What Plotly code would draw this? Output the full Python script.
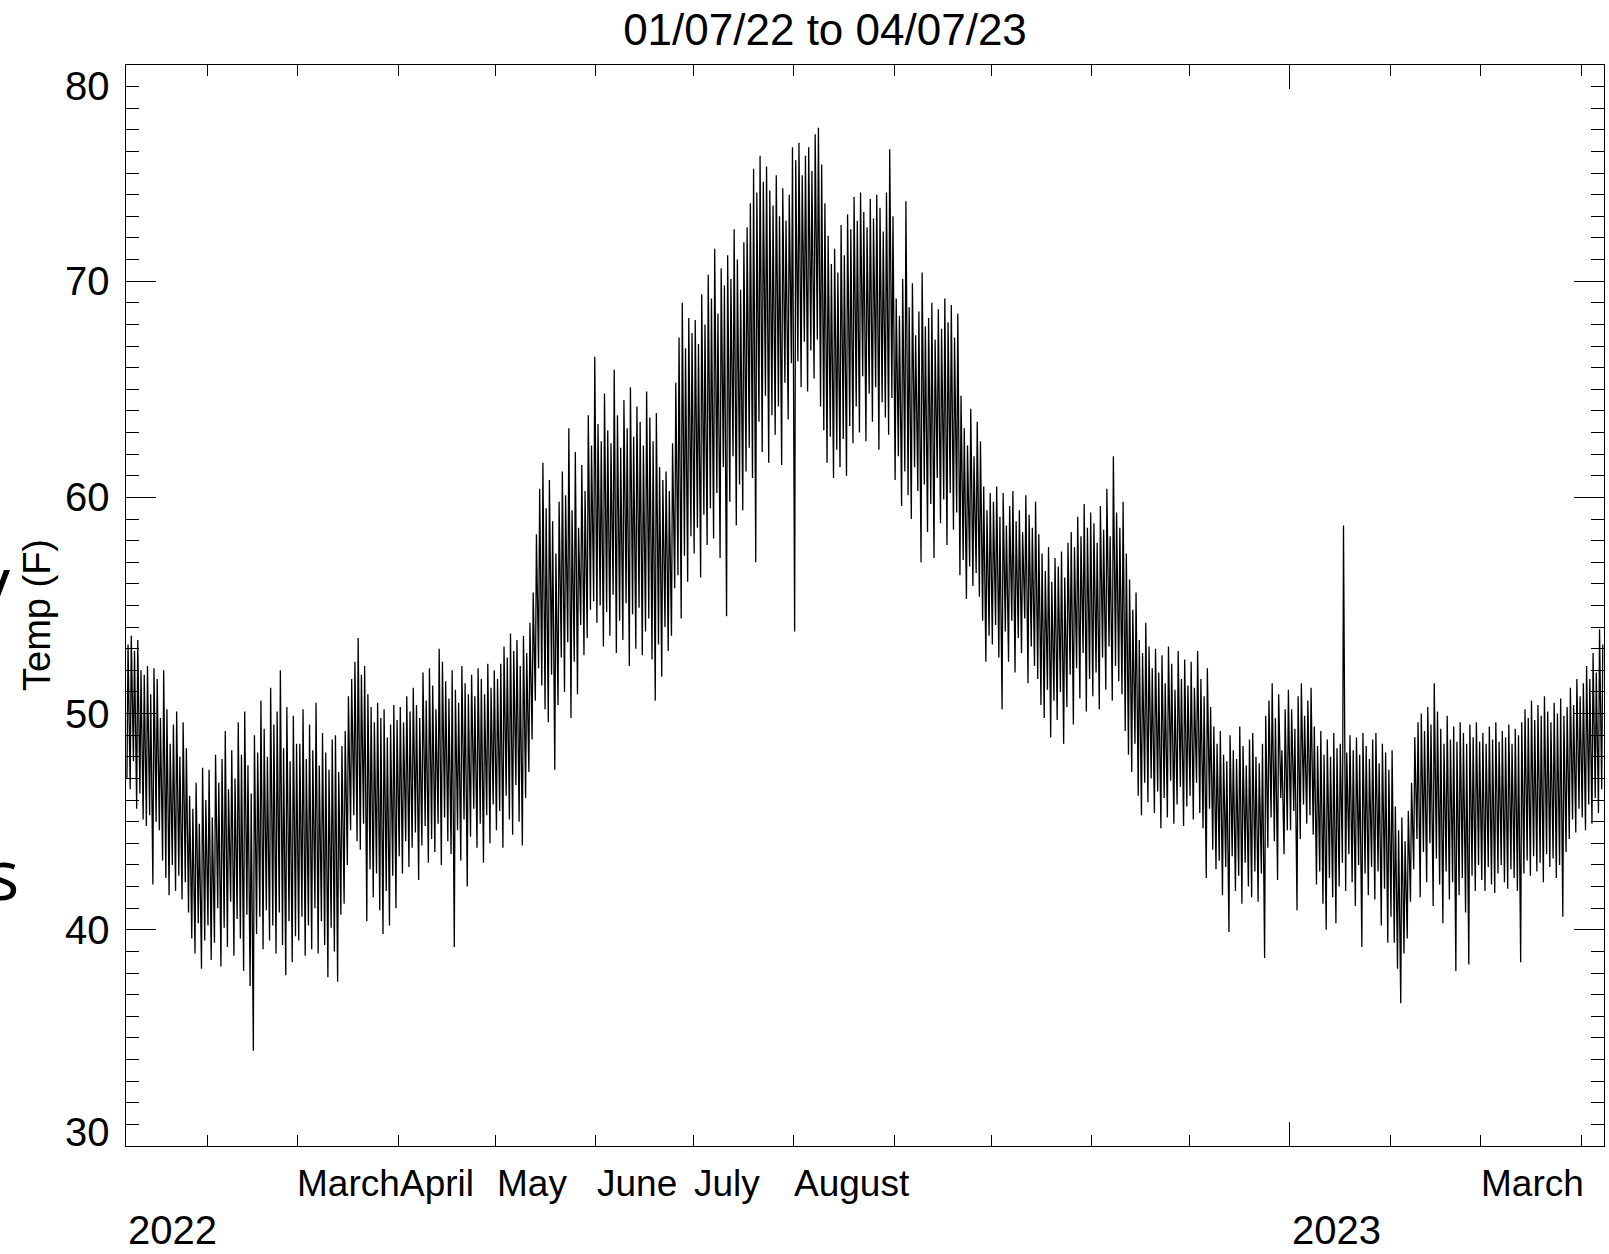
import pandas as pd
import plotly.graph_objects as go

# Daily high / low temperatures (F), 2022-01-07 .. 2023-04-07
hi_jan22 = [53.2, 53.6, 52.9, 53.4, 52.0, 51.8, 52.2, 50.9, 52.1, 51.6, 49.8, 52.0, 50.2, 48.6, 49.5, 50.1, 48.0, 49.6, 48.4, 46.2, 45.6, 46.8, 44.9, 47.5, 46.0]
lo_jan22 = [47.0, 46.5, 47.8, 45.6, 46.3, 45.1, 44.8, 45.3, 42.1, 45.0, 44.6, 43.2, 42.4, 41.6, 43.0, 41.8, 42.5, 41.4, 42.2, 40.8, 39.6, 38.9, 40.3, 38.2, 39.5]
hi_feb22 = [47.4, 45.2, 48.1, 46.8, 47.9, 49.2, 46.5, 48.3, 47.0, 49.6, 48.1, 50.1, 47.6, 46.3, 49.0, 48.2, 50.6, 49.3, 48.0, 51.2, 49.5, 50.1, 52.0, 48.4, 50.3, 47.8, 49.9, 48.6]
lo_feb22 = [40.2, 38.6, 39.4, 41.0, 38.3, 40.1, 39.2, 41.3, 38.8, 40.5, 39.6, 38.1, 40.7, 37.4, 34.4, 39.8, 40.6, 39.1, 40.9, 39.5, 40.2, 38.9, 40.8, 39.3, 37.9, 40.4, 38.5, 39.7]
hi_mar22 = [48.6, 50.2, 47.9, 49.5, 48.3, 50.5, 47.6, 49.1, 48.2, 47.4, 48.8, 49.0, 47.3, 48.5, 49.2, 50.8, 51.6, 52.4, 53.5, 51.8, 52.2, 50.9, 50.3, 49.6, 50.5, 49.8, 50.2, 48.9, 49.5, 50.4, 49.7]
lo_mar22 = [39.5, 40.6, 38.8, 40.2, 39.1, 41.0, 38.9, 40.4, 39.3, 37.8, 40.1, 39.0, 37.6, 40.7, 41.2, 43.0, 44.6, 45.3, 44.1, 43.7, 44.9, 40.4, 42.8, 41.5, 42.6, 40.9, 39.8, 41.8, 40.2, 42.5, 41.0]
hi_apr22 = [50.3, 49.6, 50.8, 50.1, 51.2, 50.4, 49.8, 51.9, 50.6, 52.1, 51.3, 50.2, 53.0, 52.4, 51.5, 50.7, 52.0, 51.1, 50.5, 52.2, 51.4, 50.9, 51.8, 50.8, 52.1, 51.6, 50.9, 52.3, 51.2, 52.0]
lo_apr22 = [43.4, 42.6, 44.1, 42.9, 43.8, 44.5, 42.3, 43.9, 44.8, 43.1, 44.2, 43.6, 44.9, 43.0, 45.2, 44.1, 43.5, 39.2, 44.6, 43.2, 45.1, 42.0, 44.3, 45.6, 43.8, 44.9, 43.1, 45.3, 44.0, 45.8]
hi_may22 = [51.6, 52.3, 53.1, 52.6, 53.7, 52.9, 53.4, 52.2, 53.6, 52.8, 54.2, 55.6, 58.3, 60.4, 61.6, 59.5, 60.8, 58.9, 57.4, 59.8, 61.2, 60.1, 63.2, 59.4, 62.1, 58.6, 61.5, 60.3, 63.8, 62.4, 66.5]
lo_may22 = [44.6, 45.5, 43.8, 46.2, 45.1, 44.4, 46.7, 45.0, 43.9, 46.1, 47.3, 48.8, 50.6, 52.1, 51.3, 50.2, 49.6, 51.8, 47.4, 50.4, 52.6, 51.0, 53.3, 49.8, 52.4, 50.9, 54.1, 52.7, 53.5, 54.8, 55.2]
hi_jun22 = [63.4, 62.6, 64.8, 63.1, 62.5, 65.9, 63.8, 62.3, 64.5, 63.2, 65.1, 62.8, 64.2, 63.5, 62.4, 64.9, 63.7, 62.6, 63.9, 61.4, 60.8, 61.2, 60.3, 62.5, 65.3, 67.4, 69.0, 66.9, 68.3, 67.6]
lo_jun22 = [54.2, 55.0, 53.1, 54.7, 53.6, 55.5, 52.8, 54.3, 53.4, 55.1, 52.2, 54.6, 53.0, 54.9, 52.7, 53.8, 54.4, 52.5, 50.6, 53.2, 51.7, 54.0, 52.9, 53.6, 55.8, 56.4, 54.4, 57.3, 56.1, 58.2]
hi_jul22 = [68.2, 67.1, 69.4, 68.0, 70.3, 69.2, 71.5, 68.5, 70.6, 69.8, 71.2, 70.1, 72.4, 71.0, 69.6, 71.8, 72.5, 73.6, 75.2, 74.1, 75.8, 74.6, 75.3, 74.2, 73.5, 74.9, 73.0, 74.3, 72.8, 74.0, 76.2]
lo_jul22 = [57.4, 58.6, 56.3, 59.2, 57.8, 59.5, 58.1, 60.2, 57.2, 61.4, 54.5, 59.8, 61.9, 58.7, 60.6, 59.4, 61.2, 62.3, 60.9, 57.0, 63.5, 62.1, 64.7, 61.6, 63.8, 62.9, 64.2, 61.5, 65.3, 63.6, 66.2]
hi_aug22 = [75.6, 76.4, 74.9, 75.8, 76.2, 75.1, 76.8, 77.1, 75.4, 73.6, 72.1, 70.8, 71.5, 70.4, 72.6, 71.2, 73.1, 72.4, 73.9, 72.8, 74.1, 73.2, 72.5, 73.8, 72.9, 74.0, 73.4, 72.3, 74.1, 76.1, 73.0]
lo_aug22 = [53.8, 66.3, 65.1, 67.2, 64.9, 66.8, 65.5, 67.3, 64.2, 63.1, 61.6, 62.8, 60.9, 62.2, 61.4, 62.7, 61.0, 63.3, 62.5, 64.2, 63.0, 65.6, 62.6, 64.8, 63.5, 65.1, 62.2, 64.4, 63.7, 62.9, 64.6]
hi_sep22 = [69.2, 68.4, 70.1, 73.7, 68.8, 69.9, 67.5, 68.6, 70.4, 67.9, 68.3, 69.0, 67.3, 68.7, 67.8, 69.2, 68.1, 68.9, 67.4, 68.5, 64.7, 63.2, 62.4, 64.1, 61.9, 63.5, 62.6, 60.5, 59.4, 60.2]
lo_sep22 = [60.8, 61.9, 59.6, 61.2, 60.1, 59.0, 61.4, 60.3, 57.0, 60.6, 58.4, 59.7, 57.2, 60.9, 58.8, 59.9, 57.8, 60.2, 58.5, 59.3, 56.4, 57.1, 55.3, 56.8, 55.9, 56.5, 55.4, 54.3, 52.4, 53.6]
hi_oct22 = [59.8, 60.5, 59.1, 60.2, 58.7, 59.6, 60.3, 58.9, 59.4, 58.4, 60.1, 59.2, 58.6, 59.8, 58.3, 57.4, 56.6, 57.7, 56.1, 57.2, 56.8, 57.5, 56.3, 57.9, 58.4, 57.7, 59.1, 58.2, 59.7, 58.6, 59.3]
lo_oct22 = [53.2, 54.1, 52.6, 50.2, 53.8, 52.4, 54.3, 51.9, 53.5, 52.8, 54.4, 51.4, 53.1, 52.2, 51.6, 50.4, 49.8, 51.1, 48.9, 50.6, 49.7, 51.0, 48.6, 50.3, 51.8, 49.5, 52.1, 50.7, 52.8, 50.1, 51.6]
hi_nov22 = [58.8, 57.9, 59.6, 58.5, 60.4, 58.2, 61.9, 59.3, 58.6, 59.8, 57.4, 56.2, 54.8, 55.6, 53.4, 52.8, 54.2, 53.1, 52.1, 53.0, 51.9, 52.7, 51.4, 53.1, 52.3, 51.1, 52.9, 51.6, 52.5, 51.3]
lo_nov22 = [50.8, 51.9, 50.2, 52.6, 51.1, 53.1, 50.6, 52.2, 51.5, 50.9, 49.2, 48.1, 47.3, 48.6, 46.2, 45.3, 46.8, 45.9, 47.0, 45.4, 46.4, 44.7, 46.1, 45.2, 46.9, 44.9, 45.8, 46.6, 44.8, 45.7]
hi_dec22 = [52.4, 51.2, 52.9, 51.6, 50.8, 52.1, 50.3, 49.4, 48.6, 49.2, 48.1, 47.8, 49.0, 48.3, 47.9, 49.4, 48.5, 47.6, 48.8, 49.1, 48.0, 47.7, 48.6, 49.9, 50.6, 51.4, 49.8, 50.9, 48.3, 50.2, 51.1]
lo_dec22 = [46.2, 45.1, 46.8, 45.4, 44.7, 42.4, 45.6, 43.7, 42.8, 43.2, 41.6, 42.9, 39.9, 43.4, 41.8, 42.5, 41.2, 43.1, 42.0, 41.5, 42.7, 41.3, 42.6, 38.7, 43.8, 45.2, 44.1, 42.3, 46.1, 43.5, 44.6]
hi_jan23 = [50.2, 49.3, 50.8, 51.4, 49.9, 50.6, 51.2, 49.4, 48.5, 49.2, 48.1, 48.8, 48.0, 49.1, 48.4, 48.6, 58.7, 48.2, 49.0, 48.3, 48.9, 48.1, 49.1, 48.5, 47.9, 48.8, 49.1, 47.7, 48.6, 48.2, 47.4]
lo_jan23 = [44.6, 45.5, 40.9, 44.2, 45.8, 44.9, 45.3, 44.4, 42.1, 42.7, 41.2, 40.0, 42.4, 41.5, 40.3, 42.0, 43.1, 41.8, 43.5, 42.2, 41.1, 43.0, 39.2, 42.6, 41.6, 42.9, 41.4, 42.7, 40.2, 41.9, 39.4]
hi_feb23 = [48.3, 45.7, 44.6, 45.2, 44.1, 45.5, 46.8, 48.9, 49.6, 50.0, 49.2, 50.3, 49.5, 51.4, 50.1, 49.3, 48.6, 49.9, 48.8, 49.4, 48.7, 49.6, 49.1, 48.6, 49.5, 48.9, 49.6, 48.7]
lo_feb23 = [40.6, 39.4, 38.2, 36.6, 38.9, 39.6, 41.3, 42.8, 44.2, 41.5, 43.6, 42.2, 44.0, 41.1, 43.3, 42.1, 40.3, 42.7, 41.4, 42.2, 38.1, 41.6, 42.4, 40.8, 38.4, 42.5, 41.8, 43.0]
hi_mar23 = [49.1, 48.6, 49.4, 48.8, 49.6, 48.7, 49.2, 48.9, 49.5, 48.6, 49.3, 49.0, 49.6, 50.2, 49.8, 50.6, 49.7, 50.4, 49.9, 50.8, 50.1, 49.6, 50.5, 50.0, 50.7, 49.9, 50.3, 51.2, 50.4, 51.6, 50.8]
lo_mar23 = [42.3, 41.8, 42.9, 42.1, 41.7, 42.6, 43.0, 42.2, 41.9, 42.8, 42.4, 41.8, 38.5, 42.6, 43.2, 42.5, 43.4, 42.7, 43.1, 42.2, 43.5, 42.9, 43.3, 42.4, 43.0, 40.6, 43.6, 44.2, 45.1, 44.5, 45.6]
hi_apr23 = [51.4, 52.2, 51.6, 52.8, 51.9, 53.9, 53.2]
lo_apr23 = [45.2, 44.6, 45.8, 44.9, 46.1, 45.4, 46.5]

start_date = "2022-01-07"
end_date = "2023-04-08"
month_label_text = ["March", "April", "May", "June", "July", "August", "March"]
month_label_dates = ["2022-03-16 19:00", "2022-04-13 00:00", "2022-05-12 07:00", "2022-06-13 17:00",
                     "2022-07-11 10:00", "2022-08-19 00:00", "2023-03-16 19:00"]
year_labels = ["2022", "2023"]
year_label_dates = ["2022-01-07", "2023-01-01"]
y_tick_values = [80, 70, 60, 50, 40, 30]

highs = (hi_jan22 + hi_feb22 + hi_mar22 + hi_apr22 + hi_may22 + hi_jun22 + hi_jul22 + hi_aug22 +
         hi_sep22 + hi_oct22 + hi_nov22 + hi_dec22 + hi_jan23 + hi_feb23 + hi_mar23 + hi_apr23)
lows = (lo_jan22 + lo_feb22 + lo_mar22 + lo_apr22 + lo_may22 + lo_jun22 + lo_jul22 + lo_aug22 +
        lo_sep22 + lo_oct22 + lo_nov22 + lo_dec22 + lo_jan23 + lo_feb23 + lo_mar23 + lo_apr23)

days = pd.date_range(start_date, periods=len(highs), freq="D")
xs, ys = [], []
for d, lo, hi in zip(days, lows, highs):
    xs.append(d + pd.Timedelta(hours=7)); ys.append(lo)
    xs.append(d + pd.Timedelta(hours=15)); ys.append(hi)

FONT = "Liberation Sans, Arial, sans-serif"

fig = go.Figure()
fig.add_trace(go.Scatter(x=xs, y=ys, mode="lines",
                         line=dict(color="black", width=1.3, simplify=False),
                         showlegend=False, hoverinfo="skip"))

month_starts = pd.date_range("2022-02-01", "2023-04-01", freq="MS")
minor_vals = [m for m in month_starts if m != pd.Timestamp("2023-01-01")]

fig.update_layout(
    width=1609, height=1254,
    margin=dict(l=126, r=5, t=65, b=108),
    paper_bgcolor="white", plot_bgcolor="white",
    title=dict(text="01/07/22 to 04/07/23", x=825 / 1609, xanchor="center",
               y=1 - 30 / 1254, yanchor="middle",
               font=dict(family=FONT, size=44, color="black")),
    xaxis=dict(type="date", range=[start_date, end_date],
               showgrid=False, zeroline=False,
               showline=True, linecolor="black", linewidth=1, mirror="ticks",
               ticks="inside", ticklen=24, tickcolor="black", tickwidth=1,
               tickmode="array", tickvals=["2023-01-01"], showticklabels=False,
               minor=dict(tickmode="array", tickvals=minor_vals, ticks="inside",
                          ticklen=11, tickcolor="black", tickwidth=1, showgrid=False)),
    yaxis=dict(range=[30, 80], showgrid=False, zeroline=False,
               showline=True, linecolor="black", linewidth=1, mirror="ticks",
               ticks="inside", ticklen=30, tickcolor="black", tickwidth=1,
               tickmode="array", tickvals=y_tick_values, showticklabels=False,
               minor=dict(dtick=1, tick0=30, ticks="inside", ticklen=13,
                          tickcolor="black", tickwidth=1, showgrid=False)),
)

ann = []
for v in y_tick_values:
    if v == 80:
        ya, ysh = "top", 3
    elif v == 30:
        ya, ysh = "bottom", -10
    else:
        ya, ysh = "middle", 0
    ann.append(dict(x=0, xref="paper", y=v, yref="y", text=str(v), showarrow=False,
                    xanchor="right", yanchor=ya, xshift=-14, yshift=ysh,
                    font=dict(family=FONT, size=40, color="black")))
for t, d in zip(month_label_text, month_label_dates):
    ann.append(dict(x=d, xref="x", y=1 - (1183 - 65) / 1081, yref="paper", text=t,
                    showarrow=False, xanchor="center", yanchor="middle",
                    font=dict(family=FONT, size=37, color="black")))
for t, d in zip(year_labels, year_label_dates):
    ann.append(dict(x=d, xref="x", y=1 - (1254 - 65) / 1081, yref="paper", text=t,
                    showarrow=False, xanchor="left", yanchor="bottom",
                    font=dict(family=FONT, size=40, color="black")))
# y-axis title
ann.append(dict(x=(37 - 126) / 1478, xref="paper", y=1 - (615 - 65) / 1081, yref="paper",
                text="Temp (F)", textangle=-90, showarrow=False,
                xanchor="center", yanchor="middle",
                font=dict(family=FONT, size=38, color="black")))
# partially visible letters at the left edge of the picture
ann.append(dict(x=(13 - 126) / 1478, xref="paper", y=1 - (580 - 65) / 1081, yref="paper",
                text="y", showarrow=False, xanchor="right", yanchor="middle",
                font=dict(family="Open Sans", size=70, color="black")))
ann.append(dict(x=(21 - 126) / 1478, xref="paper", y=1 - (873 - 65) / 1081, yref="paper",
                text="s", showarrow=False, xanchor="right", yanchor="middle",
                font=dict(family="Open Sans", size=70, color="black")))
fig.update_layout(annotations=ann)

fig.write_html("out.html")
